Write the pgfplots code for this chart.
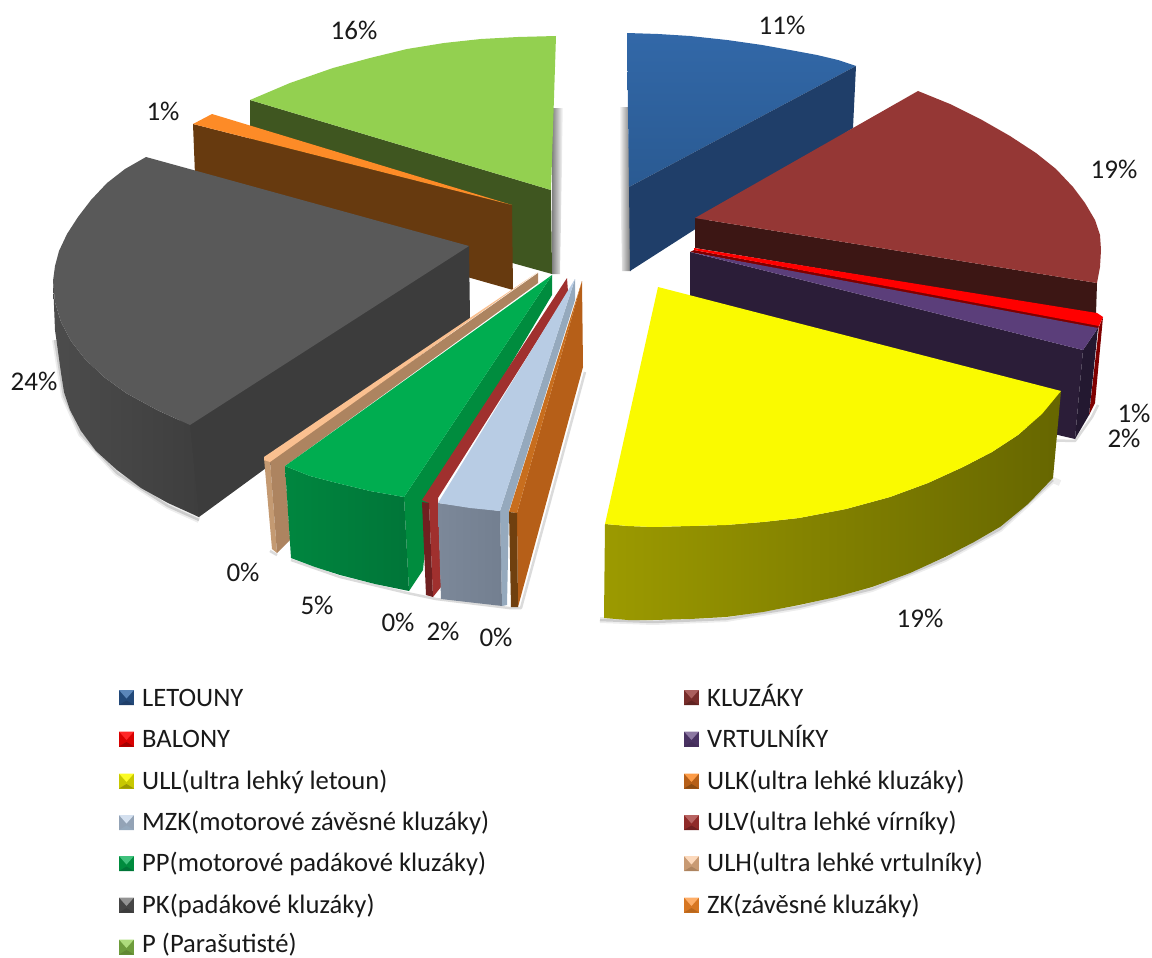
\documentclass[border=0pt]{standalone}
\usepackage{fontspec}
\setmainfont{Carlito}
\usepackage{pgfplots}
\pgfplotsset{compat=1.18}
\usetikzlibrary{shadings}

\definecolor{bluetopA}{HTML}{3268A8}
\definecolor{bluetopB}{HTML}{2A5A92}
\definecolor{blueside}{HTML}{1F3E69}
\definecolor{maroontop}{HTML}{953735}
\definecolor{maroonside}{HTML}{3C1614}
\definecolor{balon}{HTML}{FF0000}
\definecolor{balonside}{HTML}{7F0000}
\definecolor{purpletop}{HTML}{5B3E7A}
\definecolor{purpleside}{HTML}{2B1D38}
\definecolor{purpleedge}{HTML}{231830}
\definecolor{ulltop}{HTML}{FAFA00}
\definecolor{ullA}{HTML}{9C9A00}
\definecolor{ullB}{HTML}{666600}
\definecolor{ulkface}{HTML}{B65F18}
\definecolor{ulktop}{HTML}{C86E1E}
\definecolor{ulkfront}{HTML}{70400F}
\definecolor{mzktop}{HTML}{B8CCE4}
\definecolor{mzkside}{HTML}{95A9BD}
\definecolor{mzkA}{HTML}{7C8899}
\definecolor{mzkB}{HTML}{737F90}
\definecolor{ulvside}{HTML}{A0302E}
\definecolor{ulvfront}{HTML}{702020}
\definecolor{pptop}{HTML}{00AD50}
\definecolor{ppside}{HTML}{008C3E}
\definecolor{ppA}{HTML}{00863F}
\definecolor{ppB}{HTML}{007538}
\definecolor{ulhtop}{HTML}{FAC090}
\definecolor{ulhside}{HTML}{AD8460}
\definecolor{ulhfront}{HTML}{C49A72}
\definecolor{pktop}{HTML}{595959}
\definecolor{pkside}{HTML}{3C3C3C}
\definecolor{pkA}{HTML}{4C4C4C}
\definecolor{pkB}{HTML}{3E3E3E}
\definecolor{zktop}{HTML}{FD8B27}
\definecolor{zkside}{HTML}{673A0F}
\definecolor{ptop}{HTML}{93D050}
\definecolor{pside}{HTML}{3F5620}

% soft contact shadow: a wide and a narrow translucent stroke
\pgfplotsset{
  wideshadow/.style={draw=black, opacity=.07, line width=6pt, line join=round, line cap=butt},
  thinshadow/.style={draw=black, opacity=.14, line width=2.5pt, line join=round, line cap=butt},
  face/.style={draw=none, fill=#1},
}
\newcommand{\pct}[3]{\node[font=\fontsize{27}{30}\selectfont, inner sep=0pt, text=black!90] at (axis cs:#1,#2) {#3\%};}
% bevelled legend key: centre x, centre y, side colour, upper facet, lower facet
\newcommand{\legendkey}[5]{%
  \addplot[face=#3] coordinates {(#1-7.5,#2-7.5)(#1+7.5,#2-7.5)(#1+7.5,#2+7.5)(#1-7.5,#2+7.5)} --cycle;
  \addplot[face=#4] coordinates {(#1-7.5,#2-7.5)(#1+7.5,#2-7.5)(#1,#2+1)} --cycle;
  \addplot[face=#5] coordinates {(#1-7.5,#2+7.5)(#1+7.5,#2+7.5)(#1,#2+3)} --cycle;
}
\newcommand{\legendtext}[3]{\node[anchor=base west, font=\fontsize{26.6}{30}\selectfont, inner sep=0pt, text=black!90] at (axis cs:#1,#2) {#3};}

\begin{document}
\begin{tikzpicture}[x=1pt,y=1pt]
\useasboundingbox (0,0) rectangle (1152pt,958pt);
\begin{axis}[
  scale only axis, width=1152pt, height=958pt,
  xmin=0, xmax=1152, ymin=0, ymax=958, y dir=reverse,
  hide axis, clip=false,
]
% ---------- shadows under the detached slices ----------
\addplot[draw=none, left color=white, right color=black!55] coordinates {(619,107)(628,107)(631,271)(622,271)} --cycle;
\addplot[draw=none, left color=black!50, right color=white] coordinates {(552,108)(563,108)(560,274)(552,274)} --cycle;
\addplot[wideshadow] coordinates {(600,620)(653,622)(726,619)(799,607)(872,589)(945,559)(1000,529)(1053,480)(1060,483)};
\addplot[thinshadow] coordinates {(600,620)(653,622)(726,619)(799,607)(872,589)(945,559)(1000,529)(1053,480)};
\addplot[wideshadow] coordinates {(55,340)(64,396)(81,434)(117,473)(168,506)(199,520)};
\addplot[thinshadow] coordinates {(55,340)(64,396)(81,434)(117,473)(168,506)(199,520)};
\addplot[thinshadow] coordinates {(585,372)(521,608)(509,608)(436,599)(407,593)(340,577)(291,560)};
\addplot[thinshadow] coordinates {(277,555)(270,551)};
\addplot[thinshadow] coordinates {(1036,440)(1075,441)(1092,417)(1098,405)};

% ---------- letouny, 11 % ----------
\addplot[draw=none, top color=bluetopA, bottom color=bluetopB] coordinates {
  (627,33)(658,34)(690,36)(727,40)(762,45)(790,50)(817,55)(838,60)(856,66)(629,187)} --cycle;
\addplot[face=blueside] coordinates {(629,187)(856,66)(853,128)(630,271)} --cycle;

% ---------- kluzaky, 19 % ----------
\addplot[face=maroonside] coordinates {(695,218)(1097,283)(1096,314)(695,248)} --cycle;
\addplot[face=maroontop] coordinates {
  (695,218)(918,91)(950,104)(982,120)(1010,136)(1036,153)(1056,169)(1073,187)(1085,203)
  (1095,220)(1100,235)(1101,250)(1100,267)(1097,283)} --cycle;

% ---------- balony, 1 % ----------
\addplot[face=balonside] coordinates {(1103,317)(1099,327)(1089,415)(1095,403)} --cycle;
\addplot[face=balonside] coordinates {(694,250)(1099,325)(1098,331)(690,252)} --cycle;
\addplot[face=balon] coordinates {(694,248)(1097,313)(1103,317)(1099,326)(694,250)} --cycle;

% ---------- vrtulniky, 2 % ----------
\addplot[face=purpleside] coordinates {(690,252)(1083,350)(1075,439)(1058,435)(690,340)} --cycle;
\addplot[face=purpleedge] coordinates {(1083,350)(1098,328)(1089,415)(1075,439)} --cycle;
\addplot[face=purpletop] coordinates {(690,252)(1098,328)(1083,350)} --cycle;

% ---------- ULL, 19 % ----------
\addplot[draw=none, left color=ullA, middle color=ullB, right color=ullB] coordinates {
  (1061,391)(1042,414)(1018,435)(992,452)(963,467)(928,483)(890,497)(846,509)(799,518)(763,522)
  (726,525)(690,526)(653,527)(628,526)(605,524)
  (604,618)(628,620)(653,620)(690,619)(726,617)(763,612)(799,605)(836,597)(872,587)(910,573)
  (945,557)(974,542)(1000,527)(1028,504)(1053,478)} --cycle;
\addplot[face=ulltop] coordinates {
  (658,287)(1061,391)(1042,414)(1018,435)(992,452)(963,467)(928,483)(890,497)(846,509)(799,518)
  (763,522)(726,525)(690,526)(653,527)(628,526)(605,524)} --cycle;

% ---------- P, 16 % ----------
\addplot[face=pside] coordinates {(250,100)(551,190)(552,274)(250,190)} --cycle;
\addplot[face=ptop] coordinates {
  (556,36)(518,37)(481,39)(444,43)(407,49)(370,58)(333,68)(290,83)(250,100)(551,190)} --cycle;

% ---------- ZK, 1 % ----------
\addplot[face=zkside] coordinates {(193,124)(512,205)(513,290)(196,200)} --cycle;
\addplot[face=zktop] coordinates {(193,124)(212,114)(512,205)} --cycle;

% ---------- PK, 24 % ----------
\addplot[face=pkside] coordinates {(180,420)(469,246)(470,319)(199,517)(190,512)} --cycle;
\addplot[draw=none, left color=pkA, right color=pkB] coordinates {
  (53,281)(55,302)(61,322)(71,341)(85,359)(104,377)(126,393)(157,410)(190,425)
  (199,517)(168,503)(141,488)(117,470)(96,451)(81,431)(70,410)(64,392)(61,373)(55,330)} --cycle;
\addplot[face=pktop] coordinates {
  (469,246)(146,157)(125,169)(107,183)(91,200)(78,217)(67,234)(59,251)(55,266)(53,281)(55,302)
  (61,322)(71,341)(85,359)(104,377)(126,393)(157,410)(190,425)} --cycle;

% ---------- ULH, 0 % ----------
\addplot[face=ulhside] coordinates {(538,273)(270,461)(285,466)(538,283)} --cycle;
\addplot[face=ulhfront] coordinates {(264,458)(270,460)(277,553)(272,549)} --cycle;
\addplot[face=ulhside] coordinates {(270,460)(285,465)(290,540)(277,553)} --cycle;
\addplot[face=ulhtop] coordinates {(538,272)(264,457)(264,460)(270,462)} --cycle;

% ---------- PP, 5 % ----------
\addplot[face=ppside] coordinates {(552,275)(404,497)(409,591)(423,570)(430,500)(552,295)} --cycle;
\addplot[draw=none, left color=ppA, right color=ppB] coordinates {
  (285,466)(310,476)(337,483)(370,491)(404,497)(409,591)(375,584)(340,575)(315,567)(291,558)} --cycle;
\addplot[face=pptop] coordinates {(552,275)(285,466)(310,476)(337,483)(370,491)(404,497)} --cycle;

% ---------- ULV, 0 % ----------
\addplot[face=ulvside] coordinates {(567,278)(422,500)(429,503)(433,597)(441,587)(438,498)(568,292)} --cycle;
\addplot[face=ulvfront] coordinates {(422,502)(429,503)(433,597)(426,595)} --cycle;

% ---------- MZK, 2 % ----------
\addplot[face=mzkside] coordinates {(575,279)(500,511)(502,606)(507,605)(509,511)(575,300)} --cycle;
\addplot[draw=none, left color=mzkA, right color=mzkB] coordinates {(438,503)(500,511)(502,606)(441,599)} --cycle;
\addplot[face=mzktop] coordinates {(575,279)(438,503)(470,508)(500,511)} --cycle;

% ---------- ULK, 0 % ----------
\addplot[face=ulkface] coordinates {(582,281)(517,513)(518,607)(583,367)} --cycle;
\addplot[face=ulktop] coordinates {(582,281)(509,512)(517,513)} --cycle;
\addplot[face=ulkfront] coordinates {(509,512)(517,513)(518,607)(511,607)} --cycle;

% ---------- percentage labels ----------
\pct{782}{25}{11}
\pct{1114}{169}{19}
\pct{1134}{413}{1}
\pct{1124}{438}{2}
\pct{920}{618}{19}
\pct{496}{637}{0}
\pct{443}{631}{2}
\pct{398}{622}{0}
\pct{317}{605}{5}
\pct{243}{572}{0}
\pct{34}{381}{24}
\pct{163}{111}{1}
\pct{354}{30}{16}

% ---------- legend ----------
\legendkey{126.5}{697.5}{blueside!60!bluetopB}{bluetopA!80!white}{blueside}
\legendkey{126.5}{739}{balon!85!black}{balon!85!white}{balonside!70!red}
\legendkey{126.5}{781}{ulltop!80!black}{ulltop!85!white}{ullA}
\legendkey{126.5}{822.5}{mzktop!80!black}{mzktop!60!white}{mzkside}
\legendkey{126.5}{863.5}{ppside}{pptop!75!white}{ppB}
\legendkey{126.5}{905}{pkside!70!pktop}{pktop!65!white}{pkside}
\legendkey{126.5}{947}{ptop!75!black}{ptop!75!white}{pside!60!ptop}
\legendkey{691.5}{697.5}{maroontop!80!black}{maroontop!80!white}{maroonside!60!maroontop}
\legendkey{691.5}{739}{purpletop!80!black}{purpletop!70!white}{purpleside!50!purpletop}
\legendkey{691.5}{781}{ulkface}{zktop!85!white}{ulkfront!60!ulkface}
\legendkey{691.5}{822.5}{ulvside!90!black}{ulvside!75!white}{ulvfront}
\legendkey{691.5}{863.5}{ulhtop!80!black}{ulhtop!60!white}{ulhside}
\legendkey{691.5}{905}{zktop!85!black}{zktop!70!white}{zkside!45!zktop}
\legendtext{142}{706}{LETOUNY}
\legendtext{142}{747.5}{BALONY}
\legendtext{142}{789}{ULL(ultra lehký letoun)}
\legendtext{142}{830}{MZK(motorové závěsné kluzáky)}
\legendtext{142}{871.5}{PP(motorové padákové kluzáky)}
\legendtext{142}{913}{PK(padákové kluzáky)}
\legendtext{142}{952}{P (Parašutisté)}
\legendtext{707}{706}{KLUZÁKY}
\legendtext{707}{747.5}{VRTULNÍKY}
\legendtext{707}{789}{ULK(ultra lehké kluzáky)}
\legendtext{707}{830}{ULV(ultra lehké vírníky)}
\legendtext{707}{871.5}{ULH(ultra lehké vrtulníky)}
\legendtext{707}{913}{ZK(závěsné kluzáky)}
\end{axis}
\end{tikzpicture}
\end{document}
